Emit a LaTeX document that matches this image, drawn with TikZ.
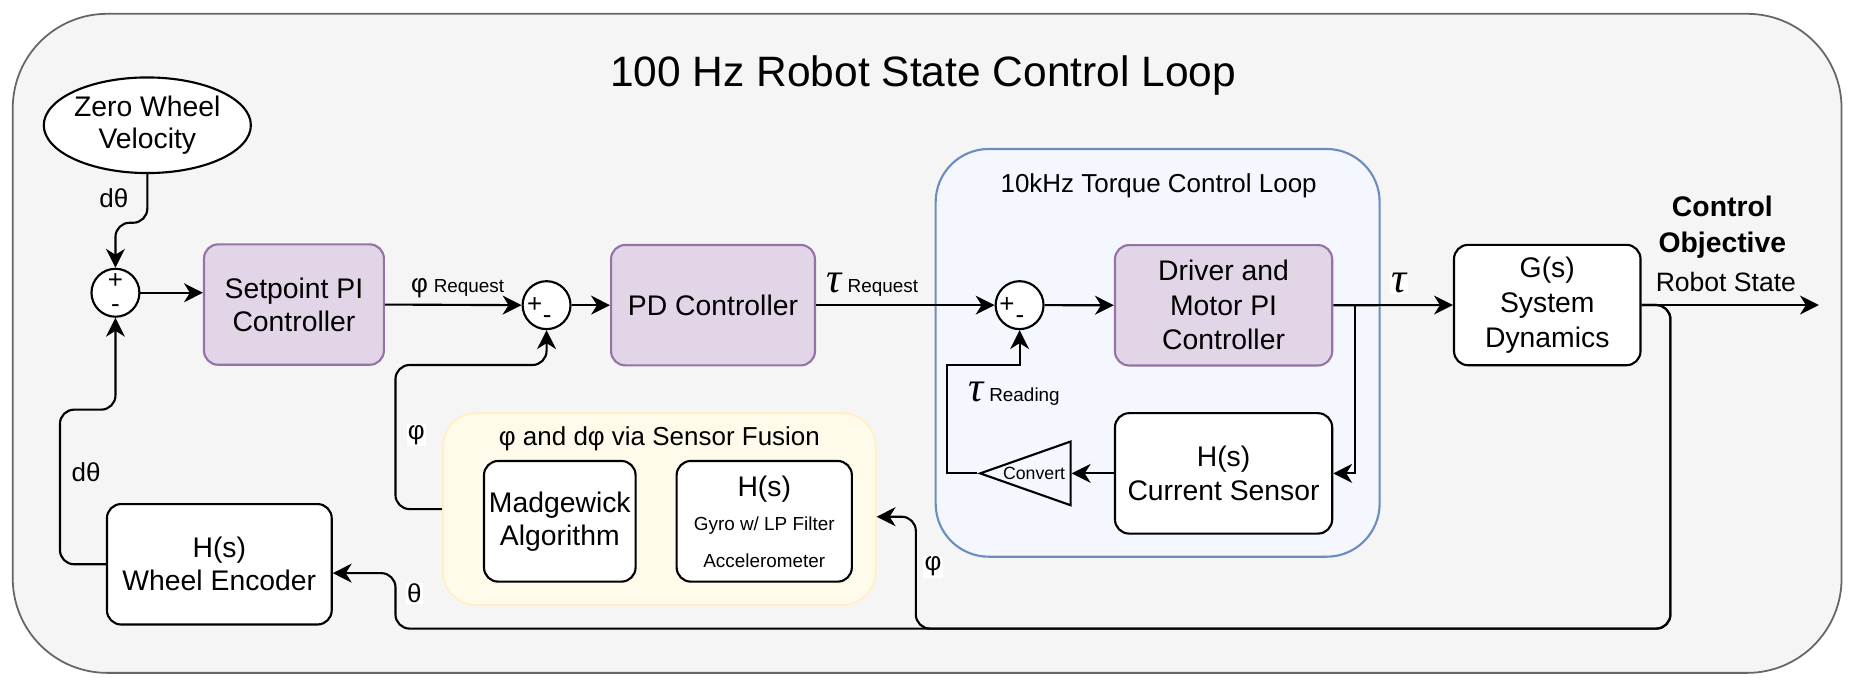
\documentclass[tikz,border=0pt]{standalone}
\usepackage{fontspec}
\setmainfont{Liberation Sans}
\newfontfamily\taufont{Liberation Serif}
\usetikzlibrary{arrows.meta,shapes.geometric,calc}
\definecolor{outerfill}{HTML}{F5F5F5}
\definecolor{outerdraw}{HTML}{666666}
\definecolor{pfill}{HTML}{E1D5E7}
\definecolor{pdraw}{HTML}{9673A6}
\definecolor{bfill}{HTML}{F4F7FD}
\definecolor{bdraw}{HTML}{6C8EBF}
\definecolor{yfill}{HTML}{FFFBEA}
\definecolor{ydraw}{HTML}{FFF0C8}
\newcommand\tausign{{\taufont\itshape\fontsize{36}{38}\selectfont τ}}
\begin{document}
\begin{tikzpicture}[x=1pt,y=-1pt,
  blk/.style={draw=black, line width=1.8pt, rounded corners=12pt, fill=white, align=center, inner sep=0pt, font=\fontsize{24}{28}\selectfont},
  pblk/.style={blk, draw=pdraw, fill=pfill},
  sumc/.style={circle, draw=black, line width=1.8pt, fill=white, minimum size=40.6pt, inner sep=0pt},
  sgn/.style={font=\fontsize{22}{22}\selectfont, inner sep=0pt},
  conn/.style={line width=1.8pt},
  arr/.style={conn, -{Stealth[length=16pt,width=16pt,inset=5pt]}},
  rc/.style={rounded corners=12pt},
  lbl/.style={font=\fontsize{22}{24}\selectfont, inner sep=1pt},
  wlbl/.style={lbl, fill=white},
  smalltxt/.style={font=\fontsize{16}{18}\selectfont, inner sep=0pt},
]
\useasboundingbox (0,0) rectangle (1568,577.7);

% containers
\node[draw=outerdraw, fill=outerfill, line width=1.5pt, rounded corners=80pt,
      minimum width=1549.2pt, minimum height=558.3pt, inner sep=0pt] (outer) at (785.4,290.85) {};
\node[font=\fontsize{36}{40}\selectfont, anchor=base] (title) at (782,73.4) {100 Hz Robot State Control Loop};

\node[draw=bdraw, fill=bfill, line width=1.8pt, rounded corners=45pt,
      minimum width=376.1pt, minimum height=345.4pt, inner sep=0pt] (tq) at (980.65,298.9) {};
\node[font=\fontsize{22}{26}\selectfont] (tqt) at (981.5,157.6) {10kHz Torque Control Loop};

\node[draw=ydraw, fill=yfill, line width=1.8pt, rounded corners=28pt,
      minimum width=366.4pt, minimum height=162.5pt, inner sep=0pt] (sf) at (558.5,431.25) {};
\node[font=\fontsize{22}{26}\selectfont] (sft) at (558.6,372) {φ and dφ via Sensor Fusion};

% blocks
\node[ellipse, draw=black, line width=1.8pt, fill=white, minimum width=164pt, minimum height=81pt,
      inner sep=0pt, align=center, font=\fontsize{24}{27.7}\selectfont] (zw) at (124.8,106.1) {Zero Wheel\\Velocity};

\node[sumc] (s1) at (97.8,248) {};
\node[sgn] (s1p) at (97.8,238) {+};
\node[sgn] (s1m) at (97.8,261) {-};

\node[pblk, minimum width=152.4pt, minimum height=102pt] (sp) at (249,258) {Setpoint PI\\Controller};

\node[sumc] (s2) at (463,258.5) {};
\node[sgn] (s2p) at (453,258.5) {+};
\node[sgn] (s2m) at (463.5,271) {-};

\node[pblk, minimum width=172.7pt, minimum height=102pt] (pd) at (604,258.5) {PD Controller};

\node[sumc] (s3) at (863.7,258.5) {};
\node[sgn] (s3p) at (853,258.5) {+};
\node[sgn] (s3m) at (864,271) {-};

\node[pblk, minimum width=184pt, minimum height=102pt, font=\fontsize{24}{29.3}\selectfont] (drv) at (1036.5,258.6) {Driver and\\Motor PI\\Controller};

\node[blk, minimum width=184pt, minimum height=102pt] (cs) at (1036.5,401) {H(s)\\Current Sensor};

\node[isosceles triangle, shape border rotate=180, isosceles triangle stretches, draw=black, line width=1.8pt,
      minimum width=54pt, minimum height=76.6pt, inner sep=0pt, anchor=apex] (conv) at (828,401) {};
\node[font=\fontsize{15}{17}\selectfont, inner sep=0pt] (convt) at (876,401) {Convert};

\node[blk, minimum width=158pt, minimum height=102pt, font=\fontsize{24}{29.5}\selectfont] (gs) at (1310.7,258.4) {G(s)\\System\\Dynamics};

\node[blk, minimum width=128.4pt, minimum height=102.2pt] (mad) at (474.2,441.6) {Madgewick\\Algorithm};

\node[blk, minimum width=148.4pt, minimum height=102.2pt] (gyro) at (647.4,441.6) {};
\node[font=\fontsize{24}{28}\selectfont, inner sep=0pt] (gyroh) at (647.4,414) {H(s)};
\node[smalltxt] (gyroa) at (647.4,445.3) {Gyro w/ LP Filter};
\node[smalltxt] (gyrob) at (647.4,475.2) {Accelerometer};

\node[blk, minimum width=190.4pt, minimum height=102pt] (we) at (185.8,478) {H(s)\\Wheel Encoder};

% output labels
\node[font=\bfseries\fontsize{24}{30.6}\selectfont, align=center, inner sep=0pt] (cobj) at (1459,192.5) {Control\\Objective};
\node[font=\fontsize{22.5}{26}\selectfont, inner sep=0pt] (rstate) at (1462,238.6) {Robot State};

% coordinates
\coordinate (out) at (1540.8,258.4);
\coordinate (br) at (1148,258.5);
\coordinate (tauL) at (802.5,309.2);
\coordinate (fbR) at (1415,532.5);
\coordinate (phiK) at (775.8,437.7);
\coordinate (thK) at (335,485.5);
\coordinate (phiL) at (335,309.2);
\coordinate (dthL) at (50.8,347);

% forward path
\draw[arr, rc] (zw.south) -- ++(0,41.2) -| (s1.north);
\draw[arr] (s1.east) -- (s1.east -| sp.west);
\draw[arr] (sp.east) -- (s2.west);
\draw[arr] (s2.east) -- (pd.west);
\draw[arr] (pd.east) -- (s3.west);
\draw[arr] (s3.east) -- (drv.west);
\draw[arr] (drv.east) -- (gs.west);
\draw[arr] (br) |- (cs.east);
\draw[arr] (cs.west) -- (conv.lower side);
\draw[arr] (conv.apex) -| (tauL) -| (s3.south);
\draw[arr] (gs.east) -- (gs.east -| out);

% feedback paths
\draw[arr, rc] (gs.east) -| (fbR) -| (phiK) -- (phiK -| sf.east);
\draw[arr, rc] (gs.east) -| (fbR) -| (thK) -- (thK -| we.east);
\draw[arr, rc] (sf.west) -| (phiL) -| (s2.south);
\draw[arr, rc] (we.west) -| (dthL) -| (s1.south);

% connector labels
\node[lbl] (ldth1) at (96.4,168) {dθ};
\node[lbl] (ldth2) at (73,400) {dθ};
\node[wlbl] (lphi2) at (352.7,368.5) {φ};
\node[wlbl] (lth) at (351,502.6) {θ};
\node[wlbl] (lphi3) at (790.3,480) {φ};
\node[anchor=base west, inner sep=0pt] (lphi1) at (348,248) {{\fontsize{22}{24}\selectfont φ}\hspace{5pt}{\fontsize{16}{18}\selectfont Request}};
\node[anchor=base west, inner sep=0pt] (ltau1) at (700,248) {\tausign\hspace{5pt}{\fontsize{16}{18}\selectfont Request}};
\node[anchor=base west, inner sep=0pt] (ltau2) at (820,340) {\tausign\hspace{5pt}{\fontsize{16}{18}\selectfont Reading}};
\node[fill=white, inner sep=1pt, anchor=base] (ltau3) at (1185,248) {\tausign};
\end{tikzpicture}
\end{document}
